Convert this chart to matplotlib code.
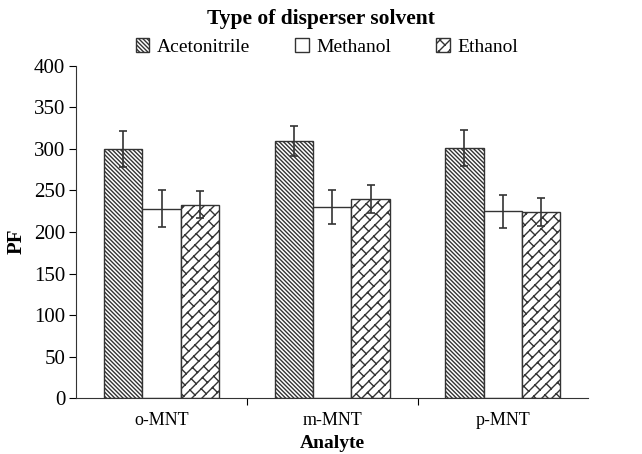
import warnings
import numpy as np
import matplotlib
matplotlib.use("Agg")
import matplotlib.pyplot as plt
from matplotlib import hatch as mhatch
from matplotlib.path import Path

warnings.filterwarnings("ignore")

analytes = ["o-MNT", "m-MNT", "p-MNT"]
solvents = ["Acetonitrile", "Methanol", "Ethanol"]
pf_values = {
    "Acetonitrile": [300, 310, 301],
    "Methanol": [228, 230, 225],
    "Ethanol": [233, 240, 224],
}
pf_errors = {
    "Acetonitrile": [22, 18, 22],
    "Methanol": [22, 20, 20],
    "Ethanol": [16, 17, 17],
}
hatches = {"Acetonitrile": "\\" * 8, "Methanol": "", "Ethanol": "b"}


class BrickHatch(mhatch.HatchPatternBase):
    # diagonal brick: "/" lines with short staggered "\" strokes between them
    def __init__(self, hatch, density):
        n = hatch.count("b") * 10
        self.segs = []
        if n:
            brick = 0.25
            for k in range(-n - 1, n + 1):
                t0, t1 = k / n, (k + 1) / n
                self.segs.append(((t0 - 1) / 2, (-t0 - 1) / 2, (t0 + 3) / 2, (3 - t0) / 2))
                off = brick / 2 if k % 2 else 0.0
                s = off - brick
                while s < 2 + brick:
                    self.segs.append(((s + t0) / 2, (s - t0) / 2, (s + t1) / 2, (s - t1) / 2))
                    s += brick
        self.num_vertices = 2 * len(self.segs)

    def set_vertices_and_codes(self, vertices, codes):
        for i, (x0, y0, x1, y1) in enumerate(self.segs):
            vertices[2 * i] = (x0, y0)
            vertices[2 * i + 1] = (x1, y1)
        codes[0::2] = Path.MOVETO
        codes[1::2] = Path.LINETO


mhatch._hatch_types.append(BrickHatch)

plt.rcParams["font.family"] = ["Liberation Serif", "DejaVu Serif"]
plt.rcParams["hatch.linewidth"] = 1.0

fig = plt.figure(figsize=(6.42, 4.54), dpi=100)
ax = fig.add_axes([0.119, 0.123, 0.797, 0.732])

x = np.arange(len(analytes))
width = 0.225
for i, s in enumerate(solvents):
    pos = x + (i - 1) * width
    ax.bar(pos, pf_values[s], width, color="white", edgecolor="#333333",
           hatch=hatches[s], linewidth=1.0, label=s, zorder=2)
    ax.errorbar(pos, pf_values[s], yerr=pf_errors[s], fmt="none",
                ecolor="#333333", elinewidth=1.2, capsize=3, capthick=1.2, zorder=3)

ax.set_xlim(-0.5, 2.5)
ax.set_ylim(0, 400)
ax.set_yticks(range(0, 401, 50))
ax.set_xticks([0.5, 1.5])
ax.set_xticklabels([])
ax.set_xticks(x, minor=True)
ax.set_xticklabels(analytes, minor=True)
ax.tick_params(axis="x", which="minor", length=0, pad=10, labelsize=13)
ax.tick_params(axis="x", which="major", length=5, direction="out")
ax.tick_params(axis="y", length=5, direction="out", labelsize=15, pad=3)

for side in ["top", "right"]:
    ax.spines[side].set_visible(False)
ax.spines["left"].set_color("#333333")
ax.spines["bottom"].set_color("#333333")

ax.set_ylabel("PF", fontsize=15, fontweight="bold")
ax.yaxis.set_label_coords(-0.098, 0.473)
ax.set_xlabel("Analyte", fontsize=14, fontweight="bold", labelpad=4)

fig.text(0.50, 0.958, "Type of disperser solvent", ha="center", va="center",
         fontsize=15.5, fontweight="bold")
ax.legend(loc="lower center", bbox_to_anchor=(0.49, 1.0), ncol=3, frameon=False,
          fontsize=14, handlelength=0.7, handleheight=0.7, handletextpad=0.4,
          columnspacing=2.3, borderaxespad=0.1)

fig.savefig("out.png", dpi=100)
